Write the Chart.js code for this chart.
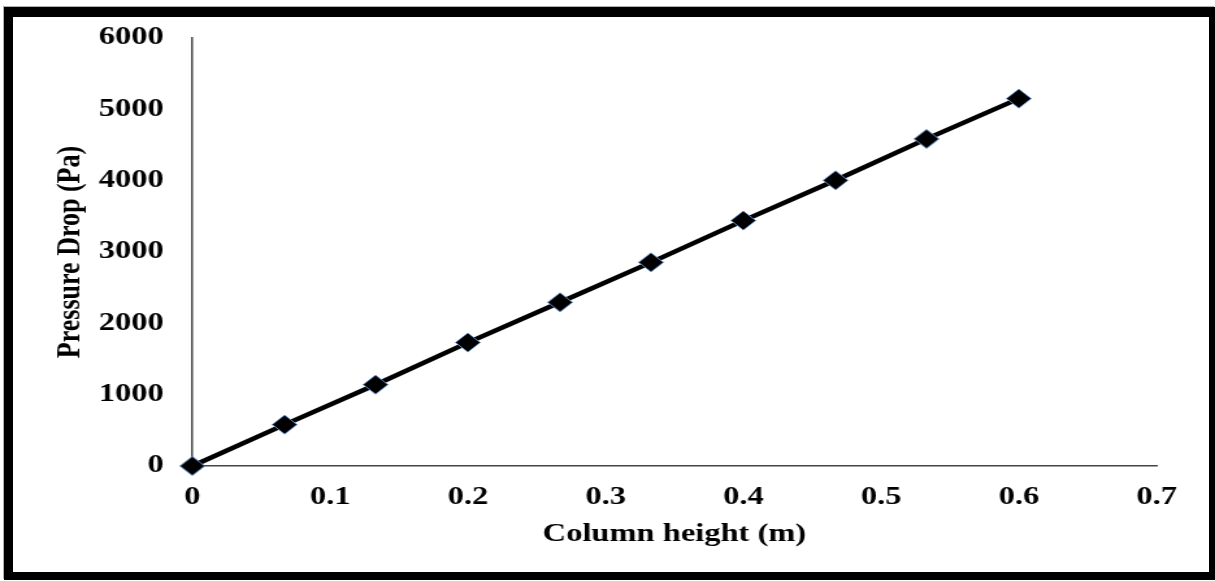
<!DOCTYPE html>
<html lang="en">
<head>
  <meta charset="UTF-8">
  <title>Pressure Drop vs Column height</title>
  <script src="https://cdn.jsdelivr.net/npm/chart.js"></script>
  <style>
    body {
      margin: 0;
      background-color: #ffffff;
      overflow: hidden;
    }
    #chart {
      position: absolute;
      left: 0;
      top: 0;
    }
    .frame {
      position: absolute;
      left: 4px;
      top: 7px;
      width: 1211px;
      height: 573px;
      box-sizing: border-box;
      border-style: solid;
      border-color: #000000;
      border-width: 10px 6px 8px 9px;
      box-shadow: -1px -1px 0 #b0b0b0;
      pointer-events: none;
    }
  </style>
</head>
<body>
  <!-- the original figure is stretched sideways, so the canvas is drawn narrower and widened by an inline style -->
  <canvas id="chart" width="935" height="581" style="width: 1215px; height: 581px;"></canvas>
  <div class="frame"></div>

  <script>
    const columnHeight = [0, 0.067, 0.133, 0.2, 0.267, 0.333, 0.4, 0.467, 0.533, 0.6];
    const pressureDrop = [0, 580, 1140, 1730, 2295, 2855, 3440, 4005, 4585, 5150];

    const xTickLabels = ['0', '0.1', '0.2', '0.3', '0.4', '0.5', '0.6', '0.7'];
    const yTickLabels = ['0', '1000', '2000', '3000', '4000', '5000', '6000'];

    const fontFamily = '"Liberation Serif", "Times New Roman", serif';

    const points = columnHeight.map((x, i) => ({ x: x, y: pressureDrop[i] }));

    new Chart(document.getElementById('chart').getContext('2d'), {
      type: 'scatter',
      data: {
        datasets: [{
          data: points,
          showLine: true,
          borderColor: '#000000',
          borderWidth: 4.5,
          tension: 0,
          pointStyle: 'rectRot',
          pointRadius: 9.5,
          pointBackgroundColor: '#000000',
          pointBorderColor: '#5b8bc9',
          pointBorderWidth: 1,
          clip: false
        }]
      },
      options: {
        responsive: false,
        devicePixelRatio: 1,
        animation: false,
        layout: {
          padding: { left: 0, right: 45, top: 38, bottom: 0 }
        },
        plugins: {
          legend: { display: false },
          tooltip: { enabled: false }
        },
        scales: {
          x: {
            type: 'linear',
            min: 0,
            max: 0.7,
            afterFit: (scale) => { scale.height = 115; },
            ticks: {
              stepSize: 0.1,
              padding: 17,
              color: '#000000',
              font: { family: fontFamily, size: 25, weight: 'bold' },
              callback: (value, index) => xTickLabels[index]
            },
            grid: { drawOnChartArea: false, drawTicks: false },
            border: { display: true, color: '#444444', width: 1.5 },
            title: {
              display: true,
              text: 'Column height (m)',
              color: '#000000',
              padding: { top: 0, bottom: 31 },
              font: { family: fontFamily, size: 25, weight: 'bold' }
            }
          },
          y: {
            min: 0,
            max: 6000,
            afterFit: (scale) => { scale.width = 148; },
            ticks: {
              stepSize: 1000,
              padding: 22,
              color: '#000000',
              font: { family: fontFamily, size: 25, weight: 'bold' },
              callback: (value, index) => yTickLabels[index]
            },
            grid: { drawOnChartArea: false, drawTicks: false },
            border: { display: true, color: '#444444', width: 1.5 },
            title: {
              display: true,
              text: 'Pressure Drop (Pa)',
              color: '#000000',
              padding: { top: 39, bottom: 0 },
              font: { family: fontFamily, size: 26, weight: 'bold' }
            }
          }
        }
      }
    });
  </script>
</body>
</html>
